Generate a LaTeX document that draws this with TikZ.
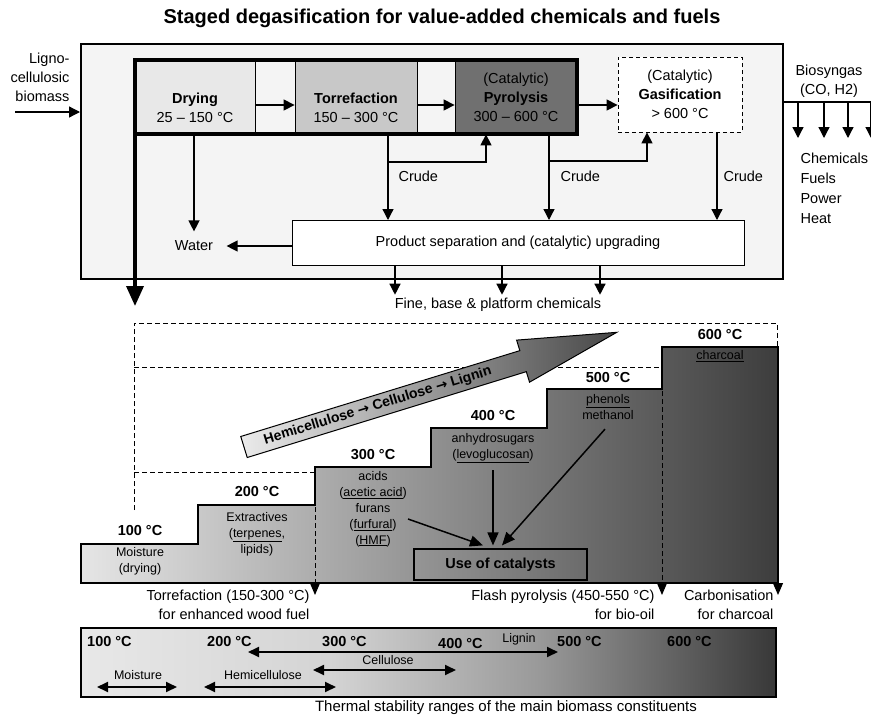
\documentclass[tikz,border=0pt]{standalone}
\usepackage{fontspec}
\setmainfont{Liberation Sans}
\newfontfamily\arrowfont{DejaVu Sans}
\usetikzlibrary{arrows.meta,positioning,calc}

\definecolor{panelgray}{RGB}{244,244,244}
\definecolor{drygray}{RGB}{232,232,232}
\definecolor{torrgray}{RGB}{200,200,200}
\definecolor{pyrogray}{RGB}{112,112,112}

% bar shading: light up to about 300 C, dark towards 600 C
\pgfdeclarehorizontalshading{barshade}{100bp}{color(0bp)=(black!9); color(25bp)=(black!9); color(43bp)=(black!17); color(58bp)=(black!40); color(75bp)=(black!78); color(100bp)=(black!78)}

\newcommand{\toarrow}{{\arrowfont\bfseries →}}

\tikzset{
  txt/.style={font=\fontsize{14.5}{19}\selectfont},
  small/.style={font=\fontsize{12.5}{16}\selectfont},
  temp/.style={font=\bfseries\fontsize{14.5}{17}\selectfont},
  flow/.style={line width=1.3pt,-{Triangle[length=11pt,width=11pt]}},
  catarrow/.style={line width=1.5pt,-{Triangle[length=13pt,width=11pt]}},
  spanarrow/.style={line width=1.8pt,{Triangle[length=11pt,width=10pt]}-{Triangle[length=11pt,width=10pt]}},
  stage/.style={draw,line width=0.8pt,minimum height=74pt,inner sep=0pt,align=center,txt},
  guide/.style={line width=1pt,dash pattern=on 5pt off 3pt},
  droptip/.style={-{Triangle[length=12pt,width=10pt]}}
}

\begin{document}
\begin{tikzpicture}[x=1pt,y=-1pt,txt]
\useasboundingbox (0,0) rectangle (871,718);

\node[font=\bfseries\fontsize{20}{24}\selectfont] (title) at (442,18) {Staged degasification for value-added chemicals and fuels};

% plant with the staged process chain
\node[draw,line width=1.5pt,fill=panelgray,minimum width=702pt,minimum height=235pt,inner sep=0pt,anchor=north west] (plant) at (80,43) {};
\node[stage,fill=drygray,minimum width=120pt] (dry) at (195,97) {\strut\\\textbf{Drying}\\25 – 150 °C};
\node[stage,fill=torrgray,minimum width=122pt] (torr) at (356,97) {\strut\\\textbf{Torrefaction}\\150 – 300 °C};
\node[stage,fill=pyrogray,minimum width=122pt] (pyro) at (516,97) {(Catalytic)\\\textbf{Pyrolysis}\\300 – 600 °C};
\node[draw,line width=3.5pt,outer sep=0pt,minimum width=442pt,minimum height=74pt] (chain) at (356,97) {};
\node[stage,fill=white,dash pattern=on 4pt off 3pt,minimum width=124pt,minimum height=75pt] (gas) at (680,94.5) {(Catalytic)\\\textbf{Gasification}\\> 600 °C};
\node[draw,line width=1pt,fill=white,minimum width=452pt,minimum height=45pt] (prod) at (518,243) {Product separation and (catalytic) upgrading};

\node[anchor=east,align=right] (bio) at (73,77) {Ligno-\\cellulosic\\biomass};
\coordinate (bioin) at (15,112);
\draw[flow] (bioin) -- (bioin -| plant.west);

\draw[flow] ([yshift=-8pt]dry.east) -- ([yshift=-8pt]torr.west);
\draw[flow] ([yshift=-8pt]torr.east) -- ([yshift=-8pt]pyro.west);
\draw[flow] ([yshift=-8pt]pyro.east) -- ([yshift=-10.5pt]gas.west);

\node (water) at (194,246) {Water};
\draw[flow,shorten >=6pt] (water.north |- dry.south) -- (water.north);
\draw[flow,shorten >=10pt] (prod.west |- water) -- (water.east);

% crude streams
\coordinate (tfork) at (388,162);
\coordinate (tup) at (486,162);
\draw[flow] (tfork |- torr.south) -- (tfork |- prod.north);
\draw[flow] (tfork) -- (tup) -- (tup |- pyro.south);
\node[anchor=west] (crudeT) at (395,176) {Crude};

\coordinate (pfork) at (549,161);
\coordinate (gup) at (647,161);
\draw[flow] (pfork |- pyro.south) -- (pfork |- prod.north);
\draw[flow] (pfork) -- (gup) -- (gup |- gas.south);
\node[anchor=west] (crudeP) at (557,176) {Crude};

\coordinate (gdown) at (717,176);
\draw[flow] (gdown |- gas.south) -- (gdown |- prod.north);
\node[anchor=west] (crudeG) at (720,176) {Crude};

\node (fine) at (498,305) {Fine, base \& platform chemicals};
\foreach \x in {395,502,600}
  \draw[flow] (prod.south -| \x,0) -- (\x,0 |- fine.north);

% syngas
\coordinate (synend) at (871,102);
\draw[line width=1.3pt] (plant.east |- synend) -- (synend);
\foreach \x in {798,824,848,871}
  \draw[flow] (\x,0 |- synend) -- (\x,138);
\node[align=center] (syngas) at (829,81) {Biosyngas\\(CO, H2)};
\node[anchor=west,align=left,font=\fontsize{14.5}{20}\selectfont] (uses) at (797,188) {Chemicals\\Fuels\\Power\\Heat};

\coordinate (feed) at (135,306);
\draw[line width=3.5pt,-{Triangle[length=20pt,width=17pt]}] (chain.south west) -- (feed);

% temperature staircase
\draw[line width=1.2pt,left color=black!10,right color=black!76]
  (81,583) -- (81,544) -- (198,544) -- (198,505) -- (315,505) -- (315,467)
  -- (431,467) -- (431,428) -- (547,428) -- (547,389) -- (662,389) -- (662,347)
  -- (778,347) -- (778,583) -- cycle;
\draw[guide] (134,510) -- (134,323) -- (777,323) -- (777,347);
\draw[guide,droptip] (134,367) -- (662,367) -- (662,595);
\draw[guide,droptip] (134,472) -- (315,472) -- (315,595);
\draw[line width=1.2pt,droptip] (778,583) -- (778,595);

\begin{scope}[shift={(244,447)},rotate=17.1]
  \draw[line width=1pt,left color=black!8,right color=black!72]
    (0,-11) -- (292,-11) -- (292,-22) -- (390,0) -- (292,22) -- (292,11) -- (0,11) -- cycle;
  \node[rotate=17.1,font=\bfseries\fontsize{14}{16}\selectfont] (order) at (140,0) {Hemicellulose \toarrow{} Cellulose \toarrow{} Lignin};
\end{scope}

\node[temp] (t100) at (140,531) {100 °C};
\node[small,align=center] (moist) at (140,561) {Moisture\\(drying)};
\node[temp] (t200) at (257,492) {200 °C};
\node[small,align=center] (extr) at (257,534) {Extractives\\(\underline{terpenes},\\lipids)};
\node[temp] (t300) at (373,455) {300 °C};
\node[small,align=center] (acids) at (373,509) {acids\\(\underline{acetic acid})\\furans\\(\underline{furfural})\\(\underline{HMF})};
\node[temp] (t400) at (493,416) {400 °C};
\node[small,align=center] (sugars) at (493,448) {anhydrosugars\\(\underline{levoglucosan})};
\node[temp] (t500) at (608,378) {500 °C};
\node[small,align=center] (phen) at (608,407) {\underline{phenols}\\methanol};
\node[temp] (t600) at (720,335) {600 °C};
\node[small] (char) at (720,356) {\underline{charcoal}};

\node[draw,line width=1.2pt,minimum width=173pt,minimum height=31pt,temp] (cat) at (500.5,564.5) {Use of catalysts};
\coordinate (acidsrc) at (408,519);
\draw[catarrow] (acidsrc) -- ([xshift=-17.5pt,yshift=3pt]cat.north);
\draw[catarrow] ([yshift=-4pt]sugars.south) -- ([yshift=3pt]sugars.south |- cat.north);
\draw[catarrow] ([xshift=-3pt,yshift=-6pt]phen.south) -- ([xshift=1.5pt,yshift=3pt]cat.north);

\node[align=right,anchor=east] (torrnote) at (313,605) {Torrefaction (150-300 °C)\\for enhanced wood fuel};
\node[align=right,anchor=east] (flashnote) at (658,605) {Flash pyrolysis (450-550 °C)\\for bio-oil};
\node[align=right,anchor=east] (carbnote) at (777,605) {Carbonisation\\for charcoal};

% thermal stability bar
\node[draw,line width=1.5pt,shading=barshade,minimum width=695pt,minimum height=69pt,inner sep=0pt] (bar) at (428.5,662.5) {};
\foreach \t/\x/\y in {100/87/642,200/207/642,300/322/642,400/438/644,500/557/642,600/667/642}
  \node[temp,anchor=west,inner sep=0pt] (bt\t) at (\x,\y) {\t{} °C};
\draw[spanarrow] (248,652) -- (558,652);
\draw[spanarrow] (313,670) -- (456,670);
\draw[spanarrow] (97,687) -- (177,687);
\draw[spanarrow] (204,687) -- (336,687);
\node[small] (lig) at (519,639) {Lignin};
\node[small] (cel) at (388,660) {Cellulose};
\node[small] (moi) at (138,675) {Moisture};
\node[small] (hem) at (263,675) {Hemicellulose};
\node[font=\fontsize{15}{18}\selectfont] (caption) at (506,708) {Thermal stability ranges of the main biomass constituents};
\end{tikzpicture}
\end{document}
